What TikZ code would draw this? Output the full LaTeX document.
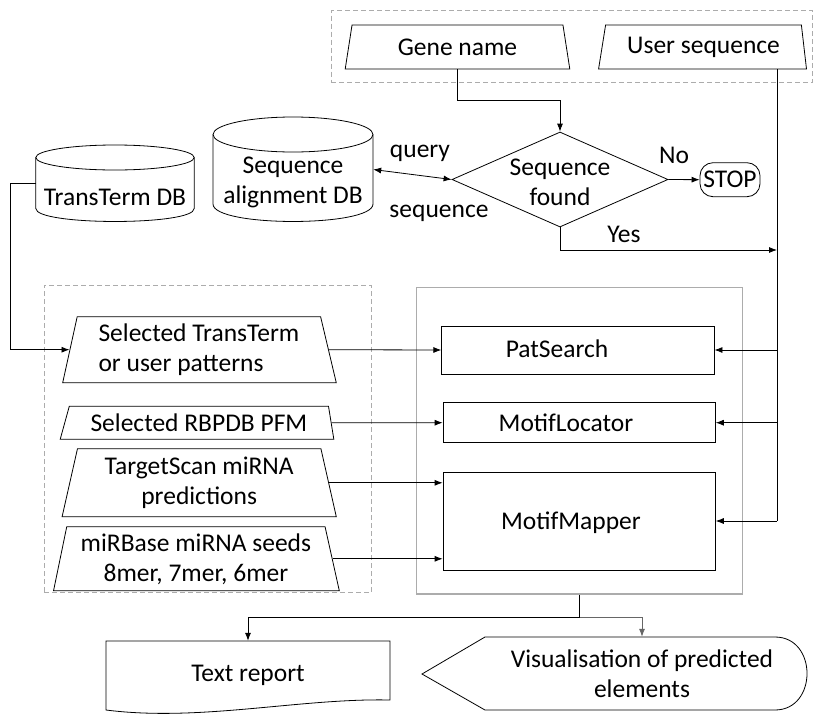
\documentclass[tikz,border=0pt]{standalone}
\usepackage{fontspec}
\setmainfont{Carlito}
\usetikzlibrary{arrows.meta,shapes.geometric}
\begin{document}
\begin{tikzpicture}[x=1pt,y=-1pt,
  every node/.style={font=\fontsize{25.5}{30}\selectfont, inner sep=0pt},
  ln/.style={line width=0.8pt},
  arr/.style={ln,-{Latex[length=8pt,width=6pt]}},
  dbl/.style={ln,{Latex[length=8pt,width=6pt]}-{Latex[length=8pt,width=6pt]}},
  trap/.style={draw, ln, trapezium, trapezium stretches=true},
  box/.style={draw, ln, rectangle},
  dashbox/.style={draw=gray!65, line width=0.8pt, dash pattern=on 5pt off 3pt, rectangle},
  graybox/.style={draw=gray!65, line width=1.3pt, rectangle}]
\fill[white] (0,0) rectangle (823,718);
\useasboundingbox (0,0) rectangle (823,718);

% group frames
\node[dashbox, minimum width=481.6, minimum height=71.6] (topgrp) at (571.8,46.2) {};
\node[dashbox, minimum width=327, minimum height=307.7] (lgrp) at (207.5,438.9) {};
\node[graybox, minimum width=326, minimum height=306.7] (pbox) at (579.7,440.7) {};

% inputs
\node[trap, minimum width=225, minimum height=44, trapezium left angle=77, trapezium right angle=77] (gene) at (457.5,47) {Gene name};
\node[trap, minimum width=208, minimum height=44, trapezium left angle=75, trapezium right angle=79] (user) at (703.5,47) {User sequence};

% databases
\node[minimum width=158.4, align=center] (ttdb) at (115,197) {TransTerm DB};
\draw[ln] (115,157.5) ellipse [x radius=79.2, y radius=12.5];
\draw[ln] (35.8,157.5) -- (35.8,208.5) .. controls (35.8,225.8) and (194.2,225.8) .. (194.2,208.5) -- (194.2,157.5);

\node[minimum width=160, align=center] (sadb) at (293,182.5) {Sequence\\alignment DB};
\draw[ln] (293,134.5) ellipse [x radius=80, y radius=17.5];
\draw[ln] (213,134.5) -- (213,204) .. controls (213,227.3) and (373,227.3) .. (373,204) -- (373,134.5);

% decision
\node[draw, ln, diamond, minimum width=216, minimum height=95] (dec) at (560,179.5) {};
\node[align=center] (dectxt) at (560,182) {Sequence\\found};
\node[draw, ln, rectangle, rounded corners=13pt, minimum width=60, minimum height=34] (stop) at (730,179.7) {STOP};

\node (qlab) at (420,153) {query};
\node (slab) at (439,213) {sequence};
\node (nolab) at (674,155) {No};
\node (yeslab) at (624,234) {Yes};

% left inputs
\node[trap, align=left, minimum width=274, minimum height=66, trapezium left angle=77, trapezium right angle=76] (sel) at (198.9,349.7) {Selected TransTerm\\or user patterns};
\node[trap, minimum width=274, minimum height=33, trapezium left angle=67, trapezium right angle=76] (rbp) at (198.9,422.7) {Selected RBPDB PFM};
\node[trap, align=center, minimum width=275, minimum height=68, trapezium left angle=77, trapezium right angle=77] (ts) at (199.2,482.8) {TargetScan miRNA\\predictions};
\node[trap, align=center, minimum width=286, minimum height=64, trapezium left angle=77, trapezium right angle=76] (mir) at (195.9,558.8) {miRBase miRNA seeds\\8mer, 7mer, 6mer};

% tools
\node[box, minimum width=272.3, minimum height=48] (pat) at (577.9,350) {};
\node (pattxt) at (557,349) {PatSearch};
\node[box, minimum width=272.3, minimum height=40] (mloc) at (579.2,422.7) {};
\node (mloctxt) at (566,423) {MotifLocator};
\node[box, minimum width=272.3, minimum height=98] (mm) at (579.2,521) {};
\node (mmtxt) at (571,523) {MotifMapper};

% outputs
\node[minimum width=284, minimum height=68] (rep) at (248,675) {Text report};
\draw[ln] (106,641) -- (390,641) -- (390,700) .. controls (300,698) and (200,722) .. (106,710) -- cycle;
\node[align=center, minimum width=240, minimum height=73] (vis) at (642,673.5) {Visualisation of predicted\\elements};
\draw[ln] (422,674) -- (485,637) -- (775,637) .. controls (817.7,637) and (817.7,710) .. (775,710) -- (485,710) -- cycle;

% connectors
\coordinate (rail) at (777,250);
\draw[arr] (gene.south) -- ++(0,31) -| (dec.north);
\draw[ln] (user.south -| rail) -- (rail |- mm.east);
\draw[arr] (dec.south) |- (rail);
\draw[arr] (dec.east) -- (stop.west);
\draw[dbl] ([yshift=13pt]sadb.east) -- (dec.west);
\draw[arr] ([yshift=14pt]ttdb.west) -- ++(-25,0) |- (sel.west);

\draw[arr] (rail |- pat.east) -- (pat.east);
\draw[arr] (rail |- mloc.east) -- (mloc.east);
\draw[arr] (rail |- mm.east) -- (mm.east);

\draw[arr] (sel.east) -- (pat.west);
\draw[arr] (rbp.east) -- (mloc.west);
\draw[arr] (ts.east) -- (ts.east -| mm.west);
\draw[arr] (mir.east) -- (mir.east -| mm.west);

\draw[ln] (pbox.south) -- ++(0,23) coordinate (split);
\draw[arr] (split) -| (rep.north);
\draw[arr, draw=black!60] (split) -| (vis.north);
\end{tikzpicture}
\end{document}
